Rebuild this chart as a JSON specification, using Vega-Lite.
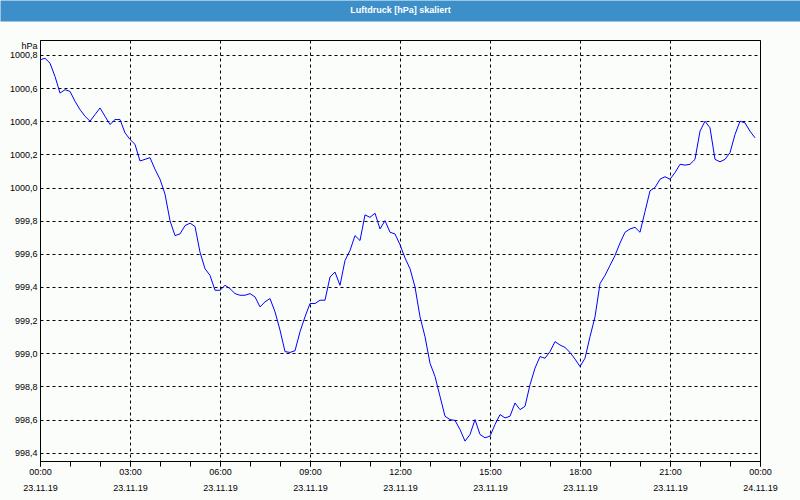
{
  "$schema": "https://vega.github.io/schema/vega-lite/v6.json",
  "background": "#fbfdfb",
  "autosize": {"type": "none"},
  "padding": {"left": 40, "top": 40, "right": 40, "bottom": 39},
  "width": 720,
  "height": 421,
  "config": {
    "view": {"stroke": "black", "strokeWidth": 1},
    "font": "Liberation Sans",
    "locale": {"number": {"decimal": ",", "thousands": ".", "grouping": [3], "currency": ["", " €"]}},
    "axis": {"labelFont": "Liberation Sans", "labelFontSize": 9, "labelColor": "#000000", "gridColor": "#000000", "gridDash": [3, 3], "gridWidth": 1, "tickColor": "#000000", "tickCap": "butt", "domain": false}
  },
  "data": {"values": [
    {"zeit": "2019-11-23T00:00", "hPa": 1000.77},
    {"zeit": "2019-11-23T00:10", "hPa": 1000.78},
    {"zeit": "2019-11-23T00:20", "hPa": 1000.75},
    {"zeit": "2019-11-23T00:30", "hPa": 1000.67},
    {"zeit": "2019-11-23T00:40", "hPa": 1000.57},
    {"zeit": "2019-11-23T00:50", "hPa": 1000.59},
    {"zeit": "2019-11-23T01:00", "hPa": 1000.58},
    {"zeit": "2019-11-23T01:10", "hPa": 1000.52},
    {"zeit": "2019-11-23T01:20", "hPa": 1000.47},
    {"zeit": "2019-11-23T01:30", "hPa": 1000.43},
    {"zeit": "2019-11-23T01:40", "hPa": 1000.40},
    {"zeit": "2019-11-23T01:50", "hPa": 1000.44},
    {"zeit": "2019-11-23T02:00", "hPa": 1000.48},
    {"zeit": "2019-11-23T02:10", "hPa": 1000.43},
    {"zeit": "2019-11-23T02:20", "hPa": 1000.38},
    {"zeit": "2019-11-23T02:30", "hPa": 1000.41},
    {"zeit": "2019-11-23T02:40", "hPa": 1000.41},
    {"zeit": "2019-11-23T02:50", "hPa": 1000.33},
    {"zeit": "2019-11-23T03:00", "hPa": 1000.29},
    {"zeit": "2019-11-23T03:10", "hPa": 1000.26},
    {"zeit": "2019-11-23T03:20", "hPa": 1000.16},
    {"zeit": "2019-11-23T03:30", "hPa": 1000.17},
    {"zeit": "2019-11-23T03:40", "hPa": 1000.18},
    {"zeit": "2019-11-23T03:50", "hPa": 1000.11},
    {"zeit": "2019-11-23T04:00", "hPa": 1000.05},
    {"zeit": "2019-11-23T04:10", "hPa": 999.96},
    {"zeit": "2019-11-23T04:20", "hPa": 999.80},
    {"zeit": "2019-11-23T04:30", "hPa": 999.71},
    {"zeit": "2019-11-23T04:40", "hPa": 999.72},
    {"zeit": "2019-11-23T04:50", "hPa": 999.77},
    {"zeit": "2019-11-23T05:00", "hPa": 999.785},
    {"zeit": "2019-11-23T05:10", "hPa": 999.765},
    {"zeit": "2019-11-23T05:20", "hPa": 999.61},
    {"zeit": "2019-11-23T05:30", "hPa": 999.51},
    {"zeit": "2019-11-23T05:40", "hPa": 999.47},
    {"zeit": "2019-11-23T05:50", "hPa": 999.38},
    {"zeit": "2019-11-23T06:00", "hPa": 999.38},
    {"zeit": "2019-11-23T06:10", "hPa": 999.41},
    {"zeit": "2019-11-23T06:20", "hPa": 999.39},
    {"zeit": "2019-11-23T06:30", "hPa": 999.36},
    {"zeit": "2019-11-23T06:40", "hPa": 999.35},
    {"zeit": "2019-11-23T06:50", "hPa": 999.35},
    {"zeit": "2019-11-23T07:00", "hPa": 999.36},
    {"zeit": "2019-11-23T07:10", "hPa": 999.34},
    {"zeit": "2019-11-23T07:20", "hPa": 999.28},
    {"zeit": "2019-11-23T07:30", "hPa": 999.31},
    {"zeit": "2019-11-23T07:40", "hPa": 999.33},
    {"zeit": "2019-11-23T07:50", "hPa": 999.25},
    {"zeit": "2019-11-23T08:00", "hPa": 999.14},
    {"zeit": "2019-11-23T08:10", "hPa": 999.01},
    {"zeit": "2019-11-23T08:20", "hPa": 999.005},
    {"zeit": "2019-11-23T08:30", "hPa": 999.015},
    {"zeit": "2019-11-23T08:40", "hPa": 999.13},
    {"zeit": "2019-11-23T08:50", "hPa": 999.22},
    {"zeit": "2019-11-23T09:00", "hPa": 999.30},
    {"zeit": "2019-11-23T09:10", "hPa": 999.30},
    {"zeit": "2019-11-23T09:20", "hPa": 999.32},
    {"zeit": "2019-11-23T09:30", "hPa": 999.32},
    {"zeit": "2019-11-23T09:40", "hPa": 999.46},
    {"zeit": "2019-11-23T09:50", "hPa": 999.49},
    {"zeit": "2019-11-23T10:00", "hPa": 999.41},
    {"zeit": "2019-11-23T10:10", "hPa": 999.56},
    {"zeit": "2019-11-23T10:20", "hPa": 999.62},
    {"zeit": "2019-11-23T10:30", "hPa": 999.71},
    {"zeit": "2019-11-23T10:40", "hPa": 999.68},
    {"zeit": "2019-11-23T10:50", "hPa": 999.835},
    {"zeit": "2019-11-23T11:00", "hPa": 999.82},
    {"zeit": "2019-11-23T11:10", "hPa": 999.845},
    {"zeit": "2019-11-23T11:20", "hPa": 999.75},
    {"zeit": "2019-11-23T11:30", "hPa": 999.80},
    {"zeit": "2019-11-23T11:40", "hPa": 999.73},
    {"zeit": "2019-11-23T11:50", "hPa": 999.72},
    {"zeit": "2019-11-23T12:00", "hPa": 999.655},
    {"zeit": "2019-11-23T12:10", "hPa": 999.575},
    {"zeit": "2019-11-23T12:20", "hPa": 999.51},
    {"zeit": "2019-11-23T12:30", "hPa": 999.40},
    {"zeit": "2019-11-23T12:40", "hPa": 999.22},
    {"zeit": "2019-11-23T12:50", "hPa": 999.10},
    {"zeit": "2019-11-23T13:00", "hPa": 998.94},
    {"zeit": "2019-11-23T13:10", "hPa": 998.86},
    {"zeit": "2019-11-23T13:20", "hPa": 998.74},
    {"zeit": "2019-11-23T13:30", "hPa": 998.62},
    {"zeit": "2019-11-23T13:40", "hPa": 998.60},
    {"zeit": "2019-11-23T13:50", "hPa": 998.595},
    {"zeit": "2019-11-23T14:00", "hPa": 998.54},
    {"zeit": "2019-11-23T14:10", "hPa": 998.47},
    {"zeit": "2019-11-23T14:20", "hPa": 998.51},
    {"zeit": "2019-11-23T14:30", "hPa": 998.60},
    {"zeit": "2019-11-23T14:40", "hPa": 998.51},
    {"zeit": "2019-11-23T14:50", "hPa": 998.49},
    {"zeit": "2019-11-23T15:00", "hPa": 998.50},
    {"zeit": "2019-11-23T15:10", "hPa": 998.57},
    {"zeit": "2019-11-23T15:20", "hPa": 998.63},
    {"zeit": "2019-11-23T15:30", "hPa": 998.61},
    {"zeit": "2019-11-23T15:40", "hPa": 998.62},
    {"zeit": "2019-11-23T15:50", "hPa": 998.70},
    {"zeit": "2019-11-23T16:00", "hPa": 998.66},
    {"zeit": "2019-11-23T16:10", "hPa": 998.68},
    {"zeit": "2019-11-23T16:20", "hPa": 998.81},
    {"zeit": "2019-11-23T16:30", "hPa": 998.91},
    {"zeit": "2019-11-23T16:40", "hPa": 998.98},
    {"zeit": "2019-11-23T16:50", "hPa": 998.97},
    {"zeit": "2019-11-23T17:00", "hPa": 999.01},
    {"zeit": "2019-11-23T17:10", "hPa": 999.07},
    {"zeit": "2019-11-23T17:20", "hPa": 999.05},
    {"zeit": "2019-11-23T17:30", "hPa": 999.035},
    {"zeit": "2019-11-23T17:40", "hPa": 999.005},
    {"zeit": "2019-11-23T17:50", "hPa": 998.965},
    {"zeit": "2019-11-23T18:00", "hPa": 998.92},
    {"zeit": "2019-11-23T18:10", "hPa": 998.97},
    {"zeit": "2019-11-23T18:20", "hPa": 999.10},
    {"zeit": "2019-11-23T18:30", "hPa": 999.22},
    {"zeit": "2019-11-23T18:40", "hPa": 999.42},
    {"zeit": "2019-11-23T18:50", "hPa": 999.47},
    {"zeit": "2019-11-23T19:00", "hPa": 999.53},
    {"zeit": "2019-11-23T19:10", "hPa": 999.59},
    {"zeit": "2019-11-23T19:20", "hPa": 999.665},
    {"zeit": "2019-11-23T19:30", "hPa": 999.73},
    {"zeit": "2019-11-23T19:40", "hPa": 999.75},
    {"zeit": "2019-11-23T19:50", "hPa": 999.76},
    {"zeit": "2019-11-23T20:00", "hPa": 999.73},
    {"zeit": "2019-11-23T20:10", "hPa": 999.855},
    {"zeit": "2019-11-23T20:20", "hPa": 999.98},
    {"zeit": "2019-11-23T20:30", "hPa": 1000.00},
    {"zeit": "2019-11-23T20:40", "hPa": 1000.05},
    {"zeit": "2019-11-23T20:50", "hPa": 1000.065},
    {"zeit": "2019-11-23T21:00", "hPa": 1000.05},
    {"zeit": "2019-11-23T21:10", "hPa": 1000.09},
    {"zeit": "2019-11-23T21:20", "hPa": 1000.14},
    {"zeit": "2019-11-23T21:30", "hPa": 1000.135},
    {"zeit": "2019-11-23T21:40", "hPa": 1000.14},
    {"zeit": "2019-11-23T21:50", "hPa": 1000.17},
    {"zeit": "2019-11-23T22:00", "hPa": 1000.34},
    {"zeit": "2019-11-23T22:10", "hPa": 1000.40},
    {"zeit": "2019-11-23T22:20", "hPa": 1000.36},
    {"zeit": "2019-11-23T22:30", "hPa": 1000.17},
    {"zeit": "2019-11-23T22:40", "hPa": 1000.155},
    {"zeit": "2019-11-23T22:50", "hPa": 1000.17},
    {"zeit": "2019-11-23T23:00", "hPa": 1000.21},
    {"zeit": "2019-11-23T23:10", "hPa": 1000.32},
    {"zeit": "2019-11-23T23:20", "hPa": 1000.40},
    {"zeit": "2019-11-23T23:30", "hPa": 1000.39},
    {"zeit": "2019-11-23T23:40", "hPa": 1000.34},
    {"zeit": "2019-11-23T23:50", "hPa": 1000.30}
  ]},
  "resolve": {"axis": {"x": "independent"}},
  "encoding": {
    "y": {
      "field": "hPa",
      "type": "quantitative",
      "scale": {"domain": [998.35, 1000.89], "zero": false, "nice": false},
      "axis": {
        "values": [998.4, 998.6, 998.8, 999.0, 999.2, 999.4, 999.6, 999.8, 1000.0, 1000.2, 1000.4, 1000.6, 1000.8],
        "format": ".1f",
        "orient": "left",
        "ticks": false,
        "labelPadding": 3,
        "grid": true,
        "title": "hPa",
        "titleAngle": 0,
        "titleX": -3,
        "titleY": 5,
        "titleAlign": "right",
        "titleBaseline": "middle",
        "titleFontSize": 9,
        "titleFontWeight": "normal",
        "titleColor": "#000000"
      }
    }
  },
  "layer": [
    {
      "mark": {"type": "line", "strokeOpacity": 0},
      "encoding": {
        "x": {
          "field": "zeit",
          "type": "temporal",
          "scale": {"domain": [{"year": 2019, "month": 11, "date": 23, "hours": 0}, {"year": 2019, "month": 11, "date": 24, "hours": 0}], "nice": false},
          "axis": {
            "orient": "top",
            "values": [{"year": 2019, "month": 11, "date": 23, "hours": 12}],
            "format": "Luftdruck [hPa] skaliert",
            "offset": 19,
            "tickSize": 21,
            "tickWidth": 800,
            "tickColor": "#3c8fc8",
            "labelColor": "#ffffff",
            "labelFont": "Liberation Sans Narrow, Liberation Sans",
            "labelFontSize": 9,
            "labelFontWeight": "bold",
            "labelBaseline": "middle",
            "labelPadding": -9,
            "labelFlush": false,
            "labelOverlap": false,
            "grid": false,
            "title": null
          }
        }
      }
    },
    {
      "mark": {"type": "line", "strokeOpacity": 0},
      "encoding": {
        "x": {
          "field": "zeit",
          "type": "temporal",
          "axis": {
            "orient": "bottom",
            "values": [
              {"year": 2019, "month": 11, "date": 23, "hours": 0}, {"year": 2019, "month": 11, "date": 23, "hours": 1},
              {"year": 2019, "month": 11, "date": 23, "hours": 2}, {"year": 2019, "month": 11, "date": 23, "hours": 3},
              {"year": 2019, "month": 11, "date": 23, "hours": 4}, {"year": 2019, "month": 11, "date": 23, "hours": 5},
              {"year": 2019, "month": 11, "date": 23, "hours": 6}, {"year": 2019, "month": 11, "date": 23, "hours": 7},
              {"year": 2019, "month": 11, "date": 23, "hours": 8}, {"year": 2019, "month": 11, "date": 23, "hours": 9},
              {"year": 2019, "month": 11, "date": 23, "hours": 10}, {"year": 2019, "month": 11, "date": 23, "hours": 11},
              {"year": 2019, "month": 11, "date": 23, "hours": 12}, {"year": 2019, "month": 11, "date": 23, "hours": 13},
              {"year": 2019, "month": 11, "date": 23, "hours": 14}, {"year": 2019, "month": 11, "date": 23, "hours": 15},
              {"year": 2019, "month": 11, "date": 23, "hours": 16}, {"year": 2019, "month": 11, "date": 23, "hours": 17},
              {"year": 2019, "month": 11, "date": 23, "hours": 18}, {"year": 2019, "month": 11, "date": 23, "hours": 19},
              {"year": 2019, "month": 11, "date": 23, "hours": 20}, {"year": 2019, "month": 11, "date": 23, "hours": 21},
              {"year": 2019, "month": 11, "date": 23, "hours": 22}, {"year": 2019, "month": 11, "date": 23, "hours": 23},
              {"year": 2019, "month": 11, "date": 24, "hours": 0}
            ],
            "labels": false,
            "grid": false,
            "tickSize": 5,
            "title": null
          }
        }
      }
    },
    {
      "mark": {"type": "line", "strokeOpacity": 0},
      "encoding": {
        "x": {
          "field": "zeit",
          "type": "temporal",
          "axis": {
            "orient": "bottom",
            "values": [
              {"year": 2019, "month": 11, "date": 23, "hours": 0}, {"year": 2019, "month": 11, "date": 23, "hours": 3},
              {"year": 2019, "month": 11, "date": 23, "hours": 6}, {"year": 2019, "month": 11, "date": 23, "hours": 9},
              {"year": 2019, "month": 11, "date": 23, "hours": 12}, {"year": 2019, "month": 11, "date": 23, "hours": 15},
              {"year": 2019, "month": 11, "date": 23, "hours": 18}, {"year": 2019, "month": 11, "date": 23, "hours": 21},
              {"year": 2019, "month": 11, "date": 24, "hours": 0}
            ],
            "format": "%d.%m.%y",
            "labelOverlap": false,
            "labelFlush": false,
            "labelPadding": 17,
            "tickSize": 5,
            "tickOpacity": 0,
            "grid": false,
            "title": null
          }
        }
      }
    },
    {
      "mark": {"type": "line", "color": "#0000ff", "strokeWidth": 1, "interpolate": "linear"},
      "encoding": {
        "x": {
          "field": "zeit",
          "type": "temporal",
          "axis": {
            "orient": "bottom",
            "values": [
              {"year": 2019, "month": 11, "date": 23, "hours": 0}, {"year": 2019, "month": 11, "date": 23, "hours": 3},
              {"year": 2019, "month": 11, "date": 23, "hours": 6}, {"year": 2019, "month": 11, "date": 23, "hours": 9},
              {"year": 2019, "month": 11, "date": 23, "hours": 12}, {"year": 2019, "month": 11, "date": 23, "hours": 15},
              {"year": 2019, "month": 11, "date": 23, "hours": 18}, {"year": 2019, "month": 11, "date": 23, "hours": 21},
              {"year": 2019, "month": 11, "date": 24, "hours": 0}
            ],
            "format": "%H:%M",
            "labelOverlap": false,
            "labelFlush": false,
            "labelPadding": 1,
            "tickSize": 5,
            "grid": true,
            "title": null
          }
        }
      }
    }
  ]
}
